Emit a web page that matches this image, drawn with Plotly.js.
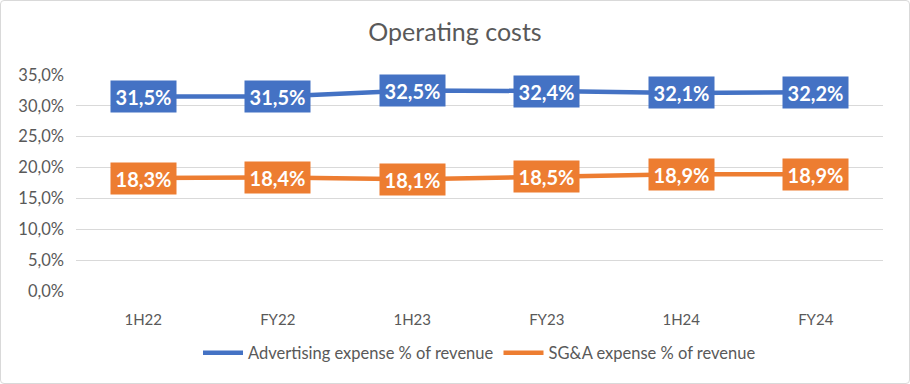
<!DOCTYPE html>
<html><head><meta charset="utf-8">
<script src="https://cdn.plot.ly/plotly-3.0.1.min.js"></script>
<style>
html,body{margin:0;padding:0;background:#fff;}
#frame{position:absolute;left:0;top:0;width:908px;height:382px;border:1px solid #d9d9d9;border-radius:4px;}
#chart{position:absolute;left:0;top:0;width:910px;height:384px;}
</style></head>
<body>
<div id="frame"></div>
<div id="chart"></div>
<script>
const categories = ["1H22","FY22","1H23","FY23","1H24","FY24"];
const advertising = [31.5,31.5,32.5,32.4,32.1,32.2];
const sga = [18.3,18.4,18.1,18.5,18.9,18.9];
const seriesNames = ["Advertising expense % of revenue","SG&A expense % of revenue"];
const colors = ["#4472C4","#ED7D31"];
const yTicks = [0,5,10,15,20,25,30,35];

const fmt = v => v.toFixed(1).replace(".", ",") + "%";
const font = "Lato, 'Open Sans', sans-serif";

const traces = [advertising, sga].map((vals,i)=>({
  x: categories, y: vals, name: seriesNames[i], type: "scatter", mode: "lines",
  line: {color: colors[i], width: 4.5}, hoverinfo: "skip"
}));

const annotations = [];
[advertising, sga].forEach((vals,i)=>{
  vals.forEach((v,j)=>{
    annotations.push({x: categories[j], y: v, xref:"x", yref:"y", text: "<b>"+fmt(v)+"</b>",
      showarrow:false, bgcolor: colors[i], width:65, height:31, borderpad:0,
      font:{family:font, size:20, color:"#ffffff"}, xanchor:"center", yanchor:"middle"});
  });
});

const layout = {
  width: 910, height: 384,
  paper_bgcolor: "rgba(0,0,0,0)", plot_bgcolor: "rgba(0,0,0,0)",
  margin: {l:76, r:27, t:75, b:93},
  title: {text: "Operating costs", font:{family:font, size:25, color:"#595959"}, x:0.5, xanchor:"center", y:0.915, yanchor:"middle"},
  xaxis: {type:"category", range:[-0.5,5.5], showgrid:false, zeroline:false, showline:false, ticks:"",
    tickfont:{family:font, size:15, color:"#595959"}, ticklabelstandoff: 18, fixedrange:true},
  yaxis: {range:[0,35], tickvals: yTicks, ticktext: yTicks.map(fmt), showgrid:true, gridcolor:"#d9d9d9", gridwidth:1,
    zeroline:false, showline:false, ticks:"", tickfont:{family:font, size:16.5, color:"#595959"}, ticklabelstandoff: 11, fixedrange:true},
  showlegend: true,
  legend: {orientation:"h", x:0.5, xanchor:"center", y:-0.287, yanchor:"middle", font:{family:font, size:16.5, color:"#595959"}, itemwidth:40, tracegroupgap:0},
  annotations: annotations,
  hovermode: false
};
Plotly.newPlot("chart", traces, layout, {staticPlot:true, displayModeBar:false});
</script>
</body></html>
